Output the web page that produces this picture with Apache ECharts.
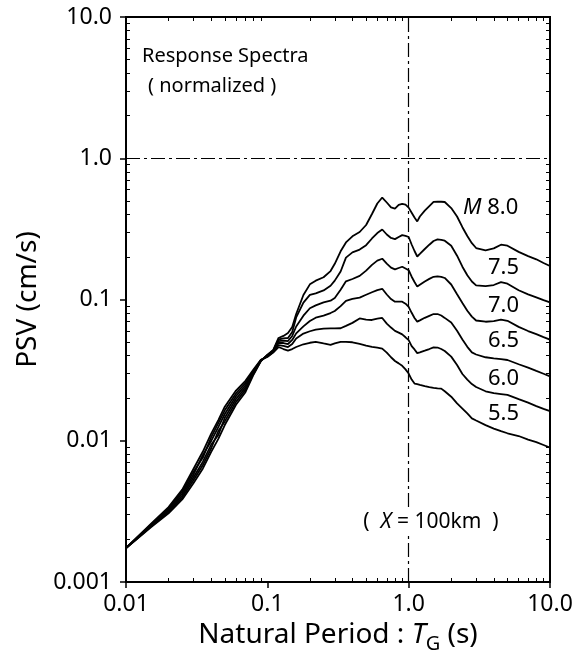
<!DOCTYPE html>
<html>
<head>
<meta charset="utf-8">
<script src="https://cdn.jsdelivr.net/npm/echarts@6/dist/echarts.min.js"></script>
<style>
html, body { margin: 0; padding: 0; background: #fff; }
#chart { width: 586px; height: 665px; }
</style>
</head>
<body>
<div id="chart"></div>
<script>
// natural period T (s), shared by all curves
const PERIODS = [0.01, 0.012, 0.015, 0.02, 0.025, 0.03, 0.035, 0.04, 0.045, 0.05, 0.06, 0.07, 0.08, 0.09,
    0.1, 0.11, 0.12, 0.13, 0.14, 0.15, 0.16, 0.18, 0.2, 0.22, 0.25, 0.28, 0.3, 0.33, 0.36, 0.4, 0.45, 0.5,
    0.55, 0.6, 0.65, 0.7, 0.75, 0.8, 0.85, 0.9, 0.95, 1.0, 1.05, 1.1, 1.15, 1.2, 1.3, 1.4, 1.5, 1.6, 1.7,
    1.8, 2.0, 2.2, 2.4, 2.6, 2.8, 3.0, 3.5, 4.0, 4.5, 5.0, 6.0, 7.0, 8.0, 9.0, 10];

// normalized PSV (cm/s) per magnitude
const PSV_M55 = [0.00174, 0.00208, 0.00258, 0.00339, 0.00451, 0.00631, 0.00839, 0.01120, 0.01400, 0.01742, 0.02266, 0.02654, 0.03200, 0.0374,
    0.0392, 0.0421, 0.0461, 0.0446, 0.0435, 0.0446, 0.0461, 0.0482, 0.0494, 0.0502, 0.0489, 0.0478, 0.0489, 0.0502, 0.0502, 0.0498, 0.0485, 0.0472,
    0.0462, 0.0456, 0.0449, 0.0421, 0.0390, 0.0367, 0.0353, 0.0339, 0.0320, 0.0299, 0.0271, 0.0254, 0.0252, 0.0249, 0.0244, 0.0240, 0.0237, 0.0235, 0.0234,
    0.0224, 0.0205, 0.0184, 0.0169, 0.0156, 0.0144, 0.0139, 0.0129, 0.0122, 0.0117, 0.0113, 0.0108, 0.0102, 0.00978, 0.00933, 0.00894];
const PSV_M60 = [0.00174, 0.00207, 0.00255, 0.00332, 0.00437, 0.00602, 0.00760, 0.01055, 0.01333, 0.01641, 0.02164, 0.02557, 0.03147, 0.0373,
    0.0395, 0.0425, 0.0476, 0.0469, 0.0461, 0.0484, 0.0530, 0.0574, 0.0596, 0.0611, 0.0621, 0.0625, 0.0625, 0.0626, 0.0651, 0.0683, 0.0734, 0.0721,
    0.0716, 0.0731, 0.0740, 0.0675, 0.0633, 0.0600, 0.0583, 0.0566, 0.0540, 0.0515, 0.0467, 0.0443, 0.0417, 0.0422, 0.0434, 0.0446, 0.0458, 0.0457, 0.0446,
    0.0432, 0.0394, 0.0344, 0.0297, 0.0271, 0.0252, 0.0240, 0.0224, 0.0217, 0.0214, 0.0211, 0.0197, 0.0186, 0.0176, 0.0168, 0.0162];
const PSV_M65 = [0.00174, 0.00206, 0.00252, 0.00325, 0.00423, 0.00575, 0.00794, 0.00993, 0.01250, 0.01546, 0.02067, 0.02465, 0.03096, 0.0371,
    0.0398, 0.0428, 0.0492, 0.0492, 0.0484, 0.0517, 0.0576, 0.0645, 0.0704, 0.0743, 0.0768, 0.0802, 0.0829, 0.0898, 0.0979, 0.1010, 0.1031, 0.1080,
    0.1125, 0.1166, 0.1191, 0.1085, 0.1008, 0.0965, 0.0965, 0.0965, 0.0934, 0.0886, 0.0805, 0.0740, 0.0697, 0.0712, 0.0742, 0.0766, 0.0789, 0.0789, 0.0770,
    0.0741, 0.0688, 0.0600, 0.0521, 0.0462, 0.0422, 0.0408, 0.0390, 0.0383, 0.0378, 0.0373, 0.0348, 0.0329, 0.0312, 0.0298, 0.0286];
const PSV_M70 = [0.00174, 0.00204, 0.00250, 0.00319, 0.00409, 0.00549, 0.00711, 0.00936, 0.01098, 0.01456, 0.01974, 0.02376, 0.03045, 0.0369,
    0.0401, 0.0432, 0.0508, 0.0512, 0.0508, 0.0552, 0.0644, 0.0768, 0.0867, 0.0908, 0.0954, 0.0981, 0.1026, 0.1172, 0.1345, 0.1397, 0.1469, 0.1602,
    0.1758, 0.1885, 0.1944, 0.1795, 0.1682, 0.1633, 0.1671, 0.1705, 0.1658, 0.1612, 0.1450, 0.1330, 0.1234, 0.1271, 0.1341, 0.1399, 0.1448, 0.1460, 0.1448,
    0.1420, 0.1277, 0.1088, 0.0945, 0.0832, 0.0757, 0.0710, 0.0696, 0.0704, 0.0721, 0.0707, 0.0640, 0.0598, 0.0568, 0.0542, 0.0520];
const PSV_M75 = [0.00174, 0.00203, 0.00247, 0.00312, 0.00396, 0.00525, 0.00673, 0.00881, 0.01172, 0.01371, 0.01885, 0.02290, 0.02995, 0.0367,
    0.0405, 0.0435, 0.0521, 0.0530, 0.0534, 0.0589, 0.0746, 0.0951, 0.1078, 0.1106, 0.1160, 0.1252, 0.136, 0.1579, 0.198, 0.2156, 0.2256, 0.2423,
    0.2704, 0.2956, 0.3130, 0.2885, 0.2726, 0.2677, 0.2770, 0.2857, 0.2820, 0.2770, 0.2451, 0.2205, 0.2016, 0.2103, 0.2278, 0.2443, 0.2596, 0.2664, 0.2647,
    0.2608, 0.2404, 0.2042, 0.1707, 0.1484, 0.1341, 0.1260, 0.1242, 0.1266, 0.1326, 0.1294, 0.1162, 0.1088, 0.1036, 0.0989, 0.0953];
const PSV_M80 = [0.00174, 0.00202, 0.00244, 0.00306, 0.00384, 0.00501, 0.00637, 0.00830, 0.01030, 0.01292, 0.01800, 0.02207, 0.02945, 0.0366,
    0.0405, 0.0439, 0.0534, 0.0552, 0.0579, 0.0639, 0.0789, 0.1076, 0.128, 0.136, 0.1437, 0.159, 0.179, 0.2194, 0.2536, 0.280, 0.3005, 0.3368,
    0.403, 0.478, 0.527, 0.486, 0.4495, 0.4406, 0.468, 0.476, 0.4696, 0.447, 0.4116, 0.3806, 0.357, 0.387, 0.426, 0.459, 0.4915, 0.492, 0.492,
    0.490, 0.444, 0.387, 0.325, 0.2815, 0.2504, 0.2315, 0.2230, 0.230, 0.2443, 0.2404, 0.2173, 0.2029, 0.1926, 0.1813, 0.1726];

const MAGNITUDES = ['5.5', '6.0', '6.5', '7.0', '7.5', '8.0'];
const CURVES = [PSV_M55, PSV_M60, PSV_M65, PSV_M70, PSV_M75, PSV_M80];

// minor tick positions
const X_MINOR_TICKS = [0.02, 0.03, 0.04, 0.05, 0.06, 0.07, 0.08, 0.09, 0.2, 0.3, 0.4, 0.5, 0.6, 0.7, 0.8, 0.9, 2, 3, 4, 5, 6, 7, 8, 9];
const Y_MINOR_TICKS = [0.002, 0.003, 0.004, 0.005, 0.006, 0.007, 0.008, 0.009, 0.02, 0.03, 0.04, 0.05, 0.06, 0.07, 0.08, 0.09,
    0.2, 0.3, 0.4, 0.5, 0.6, 0.7, 0.8, 0.9, 2, 3, 4, 5, 6, 7, 8, 9];

const FONT = '"Noto Sans", "Open Sans", sans-serif';

function tick_label(v) {
    let n = +Number(v).toPrecision(3);
    return n >= 1 ? n.toFixed(1) : String(n);
}

// helper axis in log10 space, only used to draw the small inner ticks
function minor_axis(position, min, max, values) {
    return {
        type: 'value', position: position, min: min, max: max,
        axisLine: { show: false, onZero: false },
        axisLabel: { show: false }, splitLine: { show: false },
        axisTick: {
            show: true, inside: true, length: 4,
            customValues: values.map(function (v) { return Math.log10(v); }),
            lineStyle: { color: '#000', width: 1 }
        }
    };
}

let chart = echarts.init(document.getElementById('chart'));

let series = CURVES.map(function (values, i) {
    return {
        name: 'M' + MAGNITUDES[i],
        type: 'line',
        xAxisIndex: 0,
        yAxisIndex: 0,
        showSymbol: false,
        silent: true,
        lineStyle: { color: '#000', width: 1.8 },
        data: PERIODS.map(function (t, j) { return [t, values[j]]; })
    };
});

series[0].markLine = {
    silent: true,
    symbol: ['none', 'none'],
    label: { show: false },
    lineStyle: { color: '#000', width: 1.2, type: [14, 4, 3, 4] },
    data: [{ xAxis: 1 }, { yAxis: 1 }]
};

let magnitude_labels = [
    { x: 463, y: 208, text: '{i|M}{n| 8.0}' },
    { x: 488, y: 268, text: '{n|7.5}' },
    { x: 488, y: 306, text: '{n|7.0}' },
    { x: 488, y: 341, text: '{n|6.5}' },
    { x: 488, y: 379, text: '{n|6.0}' },
    { x: 488, y: 414, text: '{n|5.5}' }
].map(function (l) {
    return {
        type: 'text', x: l.x, y: l.y, z: 10,
        style: {
            text: l.text, textVerticalAlign: 'middle', fill: '#000',
            rich: {
                i: { fontFamily: FONT, fontSize: 22, fontStyle: 'italic' },
                n: { fontFamily: FONT, fontSize: 22 }
            }
        }
    };
});

let option = {
    animation: false,
    grid: { left: 126, right: 36, top: 17, bottom: 83, show: true, borderColor: '#000', borderWidth: 2 },
    xAxis: [
        {
            type: 'log', min: 0.01, max: 10, position: 'bottom',
            name: '{a|Natural Period : }{i|T}{s|G}{a| (s)}',
            nameLocation: 'middle', nameGap: 35,
            nameTextStyle: {
                rich: {
                    a: { fontFamily: FONT, fontSize: 28, color: '#000', padding: [0, 0, 5, 0], verticalAlign: 'bottom' },
                    i: { fontFamily: FONT, fontSize: 28, color: '#000', fontStyle: 'italic', padding: [0, 0, 5, 0], verticalAlign: 'bottom' },
                    s: { fontFamily: FONT, fontSize: 20, color: '#000', verticalAlign: 'bottom' }
                }
            },
            axisLine: { onZero: false, lineStyle: { color: '#000', width: 2 } },
            axisTick: { length: 6, lineStyle: { color: '#000', width: 1.5 } },
            axisLabel: { formatter: tick_label, margin: 11, fontFamily: FONT, fontSize: 23, color: '#000' },
            splitLine: { show: false }
        },
        minor_axis('bottom', -2, 1, X_MINOR_TICKS),
        minor_axis('top', -2, 1, X_MINOR_TICKS)
    ],
    yAxis: [
        {
            type: 'log', min: 0.001, max: 10, position: 'left',
            name: 'PSV (cm/s)', nameLocation: 'middle', nameGap: 80,
            nameTextStyle: { fontFamily: FONT, fontSize: 28, color: '#000' },
            axisLine: { onZero: false, lineStyle: { color: '#000', width: 2 } },
            axisTick: { length: 6, lineStyle: { color: '#000', width: 1.5 } },
            axisLabel: { formatter: tick_label, margin: 14, fontFamily: FONT, fontSize: 23, color: '#000' },
            splitLine: { show: false }
        },
        minor_axis('left', -3, 1, Y_MINOR_TICKS),
        minor_axis('right', -3, 1, Y_MINOR_TICKS)
    ],
    graphic: [
        { type: 'text', x: 142, y: 56, style: { text: 'Response Spectra', font: '20px ' + FONT, fill: '#000', textVerticalAlign: 'middle' } },
        { type: 'text', x: 148, y: 86, style: { text: '( normalized )', font: '20px ' + FONT, fill: '#000', textVerticalAlign: 'middle' } },
        {
            type: 'text', x: 431, y: 522, z: 10,
            style: {
                text: '(  {i|X} = 100km  )', font: '21px ' + FONT, fill: '#000',
                textAlign: 'center', textVerticalAlign: 'middle',
                backgroundColor: '#fff', padding: [3, 2],
                rich: { i: { fontFamily: FONT, fontSize: 21, fontStyle: 'italic' } }
            }
        }
    ].concat(magnitude_labels),
    series: series
};

chart.setOption(option);

window.addEventListener('resize', function () {
    chart.resize();
});
</script>
</body>
</html>
